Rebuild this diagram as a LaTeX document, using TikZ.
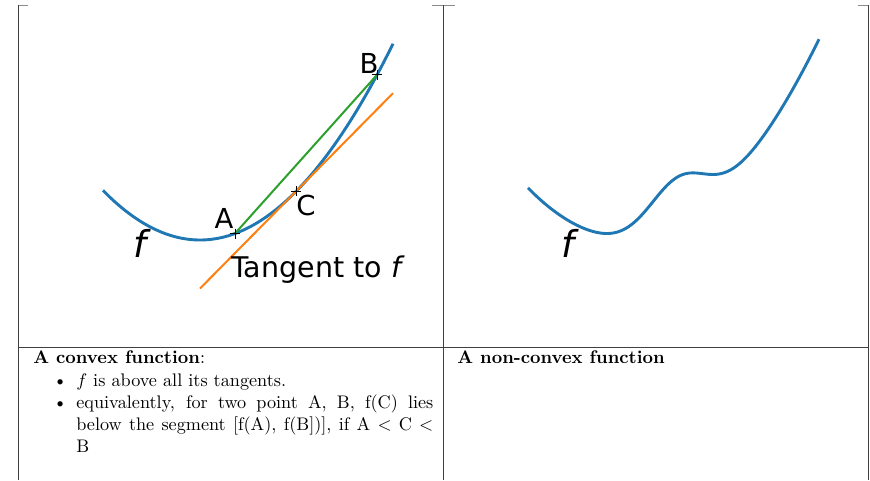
\documentclass[tikz,border=0pt]{standalone}
\usepackage{fontspec}
\usepackage{enumitem}
\newfontfamily\plotfont{DejaVu Sans}
\definecolor{plotblue}{HTML}{1F77B4}
\definecolor{plotorange}{HTML}{FF7F0E}
\definecolor{plotgreen}{HTML}{2CA02C}
\begin{document}
\begin{tikzpicture}[
x=1pt, y=-1pt,
rule/.style={black!75, line width=0.9pt},
stub/.style={black!45, line width=0.9pt},
curve/.style={plotblue, line width=2.9pt},
secant/.style={plotgreen, line width=2pt},
tangent/.style={plotorange, line width=2pt},
cross/.style={black, line width=0.9pt},
lbl/.style={font=\plotfont\fontsize{27.5}{30}\selectfont, inner sep=0pt, anchor=base},
flbl/.style={font=\plotfont\itshape\fontsize{37}{40}\selectfont, inner sep=0pt, anchor=base},
cell/.style={inner sep=0pt, anchor=north west, scale=1.82, transform shape,
  text width=219.8pt, align=justify}
]
\useasboundingbox (0,0) rectangle (870,480);

% table rules
\draw[stub] (18,5) -- (28,5) (432,5) -- (455,5) (858,5) -- (868,5);
\draw[rule] (18,5) -- (18,480) (443.5,5) -- (443.5,480) (868,5) -- (868,480);
\draw[rule] (18,347) -- (868,347);

% convex function
\coordinate (A) at (235,233.5);
\coordinate (B) at (377,74.9);
\coordinate (C) at (296,191.4);
\coordinate (tanlo) at (200,288.5);
\coordinate (tanhi) at (393,93.2);
\draw[curve] plot[domain=103:393, samples=80] (\x, {240-(0.07259*(\x-200))^2});
\draw[tangent] (tanlo) -- (tanhi);
\draw[secant] (A) -- (B);
\foreach \p in {A,B,C}
  \draw[cross] (\p) +(-5,0) -- +(5,0) +(0,-5) -- +(0,5);
\node[lbl] (labA) at (224,228) {A};
\node[lbl] (labB) at (369,73) {B};
\node[lbl] (labC) at (306,215) {C};
\node[flbl] (labf) at (140,257) {f};
\node[lbl, anchor=base west, font=\plotfont\fontsize{28.5}{30}\selectfont] (labtan)
  at (231,277) {Tangent to {\itshape f}};

% non-convex function
\draw[curve] plot[domain=528:819, samples=120]
  (\x, {237.5-(0.07259*(\x-625))^2-46*exp(-((\x-678)/41.01)^2)});
\node[flbl] (labg) at (568,257) {f};

% captions
\node[cell] (capleft) at (33,350) {\textbf{A convex function}:
  \begin{itemize}[nosep, topsep=1pt, leftmargin=23.6pt]
  \item $f$ is above all its tangents.
  \item equivalently, for two point A, B, f(C) lies\linebreak below the segment
    [f(A), f(B])], if A $<$ C $<$\linebreak B
  \end{itemize}};
\node[cell] (capright) at (457,350) {\textbf{A non-convex function}};
\end{tikzpicture}
\end{document}
